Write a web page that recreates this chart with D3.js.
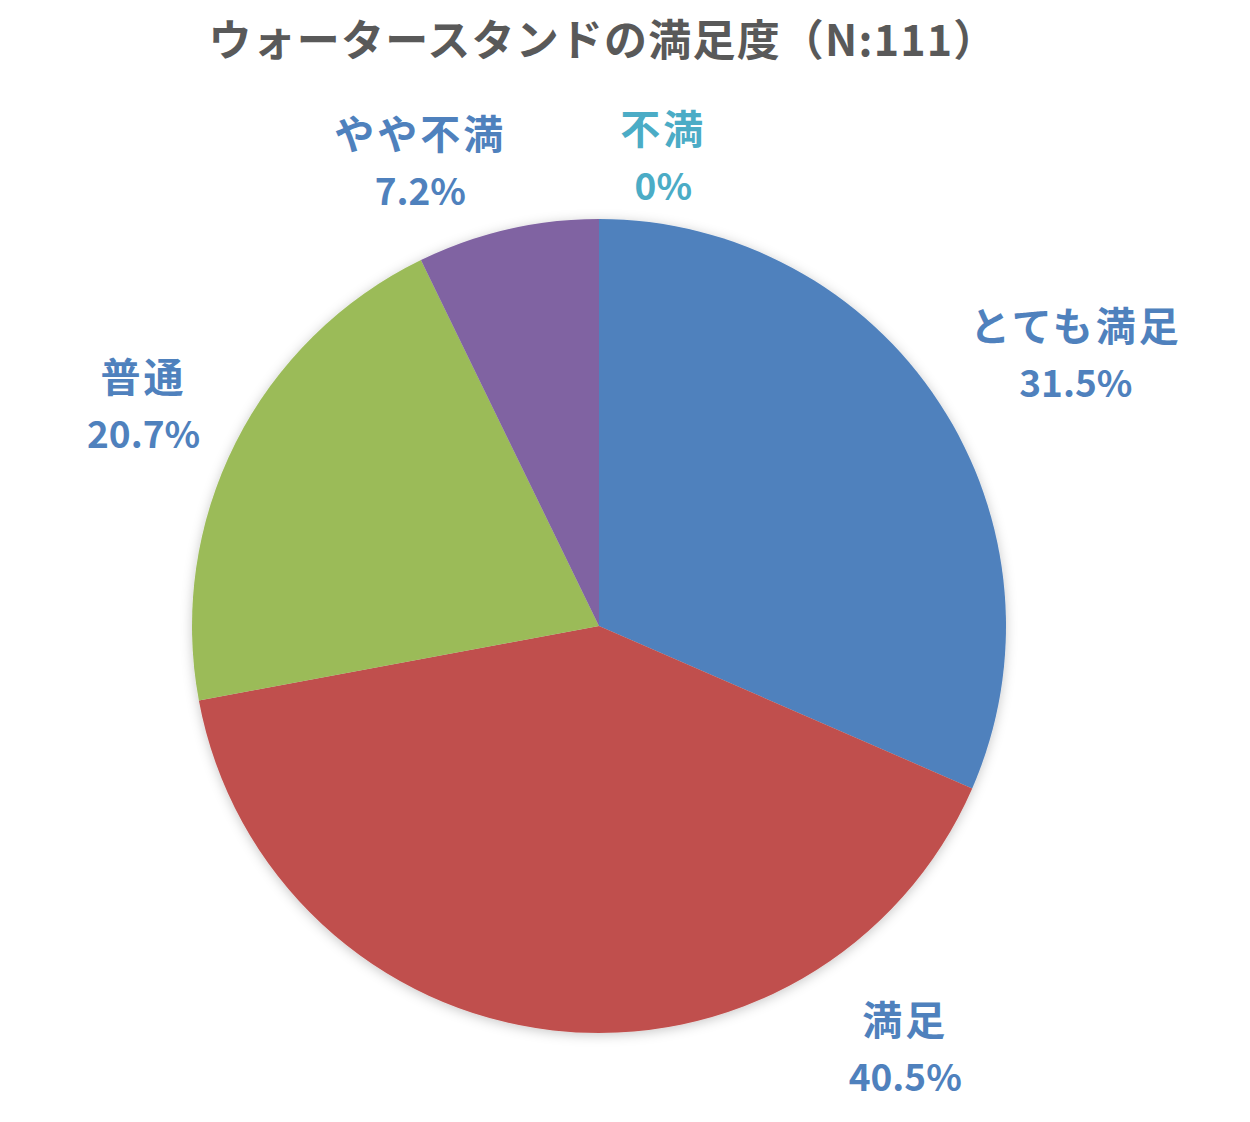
<html>
<head>
<meta charset="utf-8">
<title>ウォータースタンドの満足度</title>
<style>
  body { margin: 0; background: #fff; }
  text { font-family: "Noto Sans CJK JP", "Noto Sans", sans-serif; font-weight: bold; }
</style>
</head>
<body>
<div id="pie"></div>
<script src="https://d3js.org/d3.v7.min.js"></script>
<script>
  // data (N = 111)
  const categories = ['とても満足', '満足', '普通', 'やや不満', '不満'];
  const counts = [35, 45, 23, 8, 0];
  const percentLabels = ['31.5%', '40.5%', '20.7%', '7.2%', '0%'];
  const title = 'ウォータースタンドの満足度（N:111）';

  const colors = ['#4F81BD', '#C0504D', '#9BBB59', '#8064A2', '#4BACC6'];
  const labelColors = ['#4F81BD', '#4F81BD', '#4F81BD', '#4F81BD', '#4BACC6'];
  // where Excel's "best fit" put each label: angle in degrees, distance as a multiple of radius
  const labelAngle = [60.2, 144, 296, 339, 7.8];
  const labelDist = [1.35, 1.28, 1.245, 1.225, 1.165];

  const width = 1250;
  const height = 1122;
  const cx = 599, cy = 626, radius = 407;

  const svg = d3.select('#pie')
    .append('svg')
    .attr('width', width)
    .attr('height', height);

  const defs = svg.append('defs');
  const filter = defs.append('filter').attr('id', 'shadow')
    .attr('x', '-10%').attr('y', '-10%').attr('width', '120%').attr('height', '120%');
  filter.append('feDropShadow')
    .attr('dx', 0).attr('dy', 2)
    .attr('stdDeviation', 6)
    .attr('flood-color', '#000')
    .attr('flood-opacity', 0.22);

  svg.append('text')
    .attr('x', 603)
    .attr('y', 37)
    .attr('text-anchor', 'middle')
    .attr('dominant-baseline', 'central')
    .attr('font-size', 43)
    .attr('letter-spacing', 1.2)
    .attr('fill', '#595959')
    .text(title);

  const data = categories.map((name, i) => ({ name, value: counts[i], label: percentLabels[i], i }));

  const pie = d3.pie().sort(null).value(d => d.value);
  const arc = d3.arc().innerRadius(0).outerRadius(radius);

  const g = svg.append('g').attr('transform', `translate(${cx}, ${cy})`);

  g.append('g')
    .attr('filter', 'url(#shadow)')
    .selectAll('path')
    .data(pie(data))
    .join('path')
    .attr('d', arc)
    .attr('fill', d => colors[d.data.i]);

  // labels
  const labels = g.selectAll('g.label')
    .data(data)
    .join('g')
    .attr('class', 'label')
    .attr('transform', d => {
      const a = labelAngle[d.i] * Math.PI / 180;
      const r = radius * labelDist[d.i];
      return `translate(${r * Math.sin(a)}, ${-r * Math.cos(a)})`;
    })
    .attr('fill', d => labelColors[d.i])
    .attr('text-anchor', 'middle');

  labels.append('text')
    .attr('y', -29)
    .attr('dominant-baseline', 'central')
    .attr('font-size', 40)
    .attr('letter-spacing', 3)
    .text(d => d.name);

  labels.append('text')
    .attr('y', 28)
    .attr('dominant-baseline', 'central')
    .attr('font-size', 37)
    .text(d => d.label);
</script>
</body>
</html>
